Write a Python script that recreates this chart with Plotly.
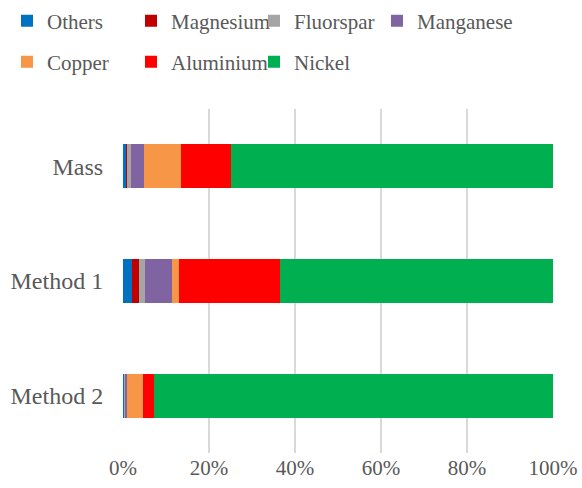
import plotly.graph_objects as go

categories = ["Mass", "Method 1", "Method 2"]
others = [0.8, 2.2, 0.4]
magnesium = [0.1, 1.6, 0.05]
fluorspar = [1.0, 1.4, 0.1]
manganese = [2.9, 6.3, 0.4]
copper = [8.8, 1.5, 3.6]
aluminium = [11.6, 23.4, 2.6]
nickel = [74.8, 63.6, 92.85]

names = ["Others", "Magnesium", "Fluorspar", "Manganese", "Copper", "Aluminium", "Nickel"]
values = [others, magnesium, fluorspar, manganese, copper, aluminium, nickel]
colors = ["#0070C0", "#C00000", "#A5A5A5", "#8064A2", "#F79646", "#FF0000", "#00B050"]

# legend placement (pixels in the 582x488 page): left edge, row centre
leg_x = [7, 131, 254, 377, 7, 131, 254]
leg_y = [21, 21, 21, 21, 62, 62, 62]

W, H = 582, 488
fam = "Liberation Serif"
grey = "#595959"

fig = go.Figure()
legends = {}
for i, (name, vals, color) in enumerate(zip(names, values, colors)):
    key = f"legend{i + 2}"
    fig.add_trace(go.Bar(
        y=categories, x=[v / 100 for v in vals], name=name, orientation="h",
        marker=dict(color=color, line=dict(width=0)), legend=key,
        showlegend=True,
    ))
    legends[key] = dict(
        orientation="h", xanchor="left", yanchor="middle",
        xref="container", yref="container",
        x=leg_x[i] / W, y=1 - leg_y[i] / H,
        font=dict(family=fam, size=21, color=grey),
        bgcolor="rgba(0,0,0,0)", itemwidth=30,
    )

fig.update_layout(
    width=W, height=H,
    margin=dict(l=123, r=29, t=109, b=35),
    barmode="stack", bargap=0.615,
    plot_bgcolor="white", paper_bgcolor="white",
    font=dict(family=fam, size=21, color=grey),
    showlegend=True,
    xaxis=dict(
        range=[0, 1], tickformat=".0%", dtick=0.2,
        showgrid=True, gridcolor="#D9D9D9", gridwidth=1.5,
        zeroline=False, showline=False,
        ticks="",
        tickfont=dict(family=fam, size=21, color=grey),
        automargin=False,
    ),
    yaxis=dict(
        autorange="reversed", showgrid=False, zeroline=False, showline=False,
        ticks="outside", ticklen=14, tickcolor="rgba(0,0,0,0)",
        tickfont=dict(family=fam, size=24, color=grey),
        automargin=False,
    ),
    **legends,
)

fig.write_html("out.html", config={"displayModeBar": False},
               post_script="document.body.style.margin='0';")
